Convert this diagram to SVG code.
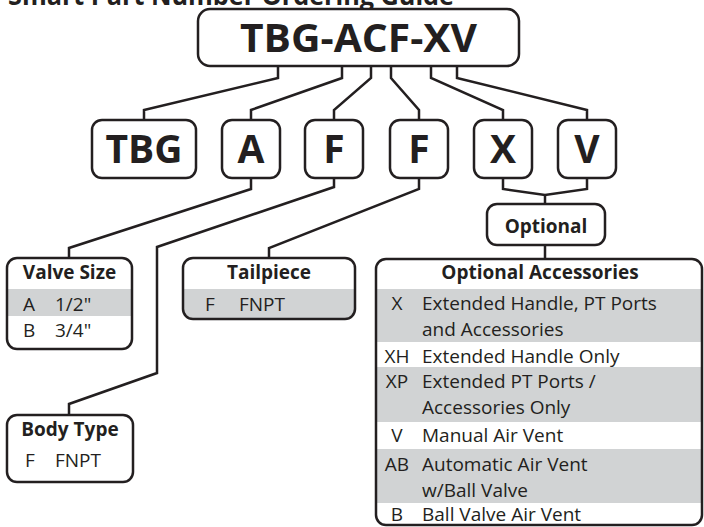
<svg xmlns="http://www.w3.org/2000/svg" width="704" height="527" viewBox="0 0 704 527">
<style>
.box{fill:#fff;stroke:#231f20;stroke-width:2.5}
.frame{fill:none;stroke:#231f20;stroke-width:2.5}
.band{fill:#d1d3d4}
.conn{fill:none;stroke:#231f20;stroke-width:2.5;stroke-linejoin:miter}
text{font-family:"Open Sans","Noto Sans","Liberation Sans",sans-serif;fill:#231f20}
.big{font-weight:700;font-size:39px;text-anchor:middle}
.hd{font-weight:700;font-size:19px;text-anchor:middle}
.tx{font-size:19px}
.cd{font-size:19px;text-anchor:middle}
</style>
<defs>
<clipPath id="cpVS"><rect x="7" y="258" width="125" height="91" rx="10"/></clipPath>
<clipPath id="cpTP"><rect x="183" y="258" width="172" height="61" rx="10"/></clipPath>
<clipPath id="cpOA"><rect x="376" y="259" width="326" height="266" rx="10"/></clipPath>
</defs>
<text id="title" x="8" y="5" font-weight="700" font-size="26" textLength="446" lengthAdjust="spacingAndGlyphs">Smart Part Number Ordering Guide</text>
<g id="connectors">
<path class="conn" d="M278 66V78L144 110V120"/>
<path class="conn" d="M342 66V78L251 110V120"/>
<path class="conn" d="M371 66V78L334 110V120"/>
<path class="conn" d="M391 66V78L419 110V120"/>
<path class="conn" d="M431 66V78L503 110V120"/>
<path class="conn" d="M457 66V78L587 110V120"/>
<path class="conn" d="M251 178V189L69 248V258"/>
<path class="conn" d="M334 178V187L157 247V373L69 404V415"/>
<path class="conn" d="M419 178V189L269 248V258"/>
<path class="conn" d="M503 178V189L545 195L587 189V178"/>
<path class="conn" d="M545 195V204"/>
<path class="conn" d="M545 245V259"/>
</g>
<g id="root">
<rect class="box" x="198" y="9" width="321" height="57" rx="12"/>
<text class="big" x="358.5" y="52" font-size="38" textLength="237" lengthAdjust="spacingAndGlyphs">TBG-ACF-XV</text>
</g>
<g id="n-tbg"><rect class="box" x="92" y="120" width="104" height="58" rx="10"/><text class="big" x="144" y="163">TBG</text></g>
<g id="n-a"><rect class="box" x="222" y="120" width="58" height="58" rx="10"/><text class="big" x="251" y="163">A</text></g>
<g id="n-f1"><rect class="box" x="305" y="120" width="58" height="58" rx="10"/><text class="big" x="334" y="163">F</text></g>
<g id="n-f2"><rect class="box" x="390" y="120" width="58" height="58" rx="10"/><text class="big" x="419" y="163">F</text></g>
<g id="n-x"><rect class="box" x="474" y="120" width="58" height="58" rx="10"/><text class="big" x="503" y="163">X</text></g>
<g id="n-v"><rect class="box" x="558" y="120" width="58" height="58" rx="10"/><text class="big" x="587" y="163">V</text></g>
<g id="n-optional"><rect class="box" x="487" y="204" width="118" height="41" rx="10"/><text class="hd" x="546" y="233" font-size="21">Optional</text></g>
<g id="n-valvesize">
<rect x="7" y="258" width="125" height="91" rx="10" fill="#fff"/>
<rect class="band" x="7" y="289" width="125" height="27" clip-path="url(#cpVS)"/>
<rect class="frame" x="7" y="258" width="125" height="91" rx="10"/>
<text class="hd" x="69.5" y="279">Valve Size</text>
<text class="tx" x="23" y="311">A</text><text class="tx" x="55" y="311">1/2"</text>
<text class="tx" x="23" y="337">B</text><text class="tx" x="55" y="337">3/4"</text>
</g>
<g id="n-tailpiece">
<rect x="183" y="258" width="172" height="61" rx="10" fill="#fff"/>
<rect class="band" x="183" y="289" width="172" height="30" clip-path="url(#cpTP)"/>
<rect class="frame" x="183" y="258" width="172" height="61" rx="10"/>
<text class="hd" x="269" y="279">Tailpiece</text>
<text class="tx" x="205" y="311">F</text><text class="tx" x="239" y="311">FNPT</text>
</g>
<g id="n-bodytype">
<rect class="box" x="7" y="415" width="126" height="67" rx="10"/>
<text class="hd" x="70" y="436">Body Type</text>
<text class="tx" x="25" y="467">F</text><text class="tx" x="55" y="467">FNPT</text>
</g>
<g id="n-accessories">
<rect x="376" y="259" width="326" height="266" rx="10" fill="#fff"/>
<g clip-path="url(#cpOA)">
<rect class="band" x="376" y="289" width="326" height="53"/>
<rect class="band" x="376" y="367" width="326" height="55"/>
<rect class="band" x="376" y="449" width="326" height="54"/>
</g>
<rect class="frame" x="376" y="259" width="326" height="266" rx="10"/>
<text class="hd" x="540" y="279">Optional Accessories</text>
<text class="cd" x="397" y="310">X</text><text class="tx" x="422" y="310">Extended Handle, PT Ports</text>
<text class="tx" x="422" y="336">and Accessories</text>
<text class="cd" x="397" y="363">XH</text><text class="tx" x="422" y="363">Extended Handle Only</text>
<text class="cd" x="397" y="388">XP</text><text class="tx" x="422" y="388">Extended PT Ports /</text>
<text class="tx" x="422" y="414">Accessories Only</text>
<text class="cd" x="397" y="442">V</text><text class="tx" x="422" y="442">Manual Air Vent</text>
<text class="cd" x="397" y="471">AB</text><text class="tx" x="422" y="471">Automatic Air Vent</text>
<text class="tx" x="422" y="497">w/Ball Valve</text>
<text class="cd" x="397" y="521">B</text><text class="tx" x="422" y="521">Ball Valve Air Vent</text>
</g>
</svg>
